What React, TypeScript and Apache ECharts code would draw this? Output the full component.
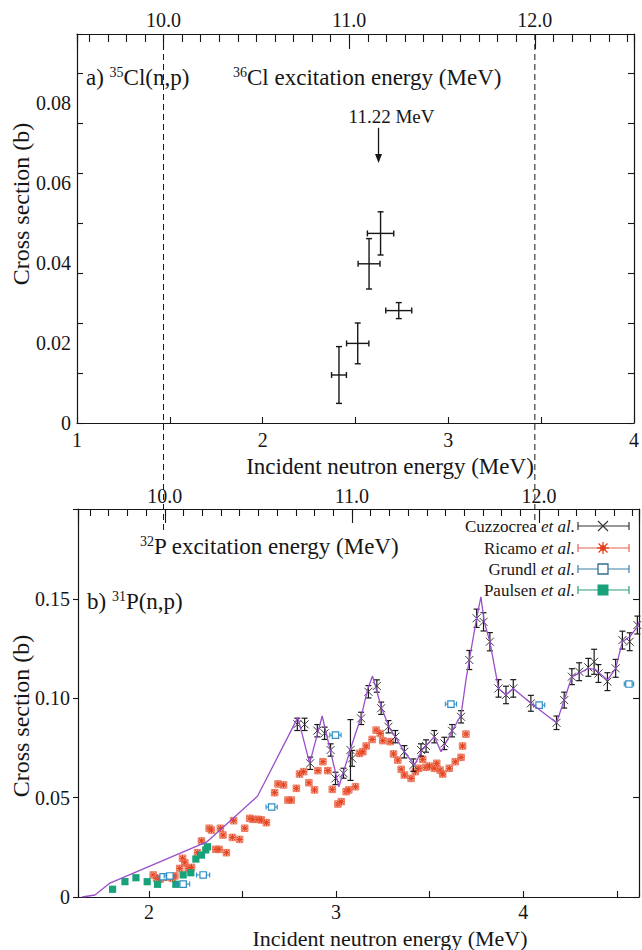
import React, { useEffect, useRef } from 'react';
import * as echarts from 'echarts';

// ---------------- Panel a) 35Cl(n,p) ----------------
const clEnergy = [2.411, 2.512, 2.573, 2.635, 2.733];
const clEnergyErr = [0.040, 0.060, 0.059, 0.071, 0.070];
const clCross = [0.0120, 0.0199, 0.0398, 0.0474, 0.0281];
const clCrossErr = [0.0071, 0.0051, 0.0063, 0.0054, 0.0020];
const clArrow = [2.624, 0.0738, 0.0650]; // energy, arrow start, arrow tip
const clArrowLabel = '11.22 MeV';
const clExOffset = 8.534; // 36Cl excitation energy = En + offset (axis alignment)

// ---------------- Panel b) 31P(n,p) ----------------
const pExOffset = 7.915; // 32P excitation energy = En + offset
const dashedEx = [10.0, 12.0];

const cuzEnergy = [2.793, 2.832, 2.862, 2.900, 2.939, 2.971, 2.997, 3.040, 3.077, 3.086,
  3.134, 3.173, 3.218, 3.241, 3.280, 3.317, 3.365, 3.413, 3.454, 3.481,
  3.525, 3.579, 3.620, 3.668, 3.712, 3.751, 3.788, 3.822, 3.868, 3.908,
  3.947, 4.041, 4.178, 4.219, 4.260, 4.299, 4.348, 4.379, 4.402, 4.450,
  4.494, 4.530, 4.569, 4.610];
const cuzCross = [0.0869, 0.0869, 0.0673, 0.0837, 0.0824, 0.0740, 0.0597, 0.0623, 0.0740, 0.0698,
  0.0899, 0.1033, 0.1062, 0.0950, 0.0857, 0.0807, 0.0731, 0.0664, 0.0740, 0.0760,
  0.0807, 0.0773, 0.0837, 0.0907, 0.1193, 0.1403, 0.1385, 0.1285, 0.1050, 0.1017,
  0.1050, 0.0975, 0.0877, 0.0991, 0.1109, 0.1134, 0.1156, 0.1184, 0.1125, 0.1084,
  0.1151, 0.1293, 0.1285, 0.1369];
const cuzErr = [0.0031, 0.0031, 0.0031, 0.0031, 0.0031, 0.0031, 0.0031, 0.0025, 0.0153, 0.0040,
  0.0031, 0.0031, 0.0031, 0.0031, 0.0031, 0.0031, 0.0031, 0.0031, 0.0031, 0.0031,
  0.0031, 0.0031, 0.0031, 0.0031, 0.0048, 0.0046, 0.0046, 0.0046, 0.0044, 0.0044,
  0.0044, 0.0040, 0.0034, 0.0040, 0.0040, 0.0045, 0.0045, 0.0063, 0.0045, 0.0045,
  0.0045, 0.0045, 0.0045, 0.0045];

const ricEnergy = [2.023, 2.041, 2.059, 2.091, 2.126, 2.139, 2.165, 2.180, 2.192, 2.210,
  2.228, 2.260, 2.281, 2.322, 2.334, 2.357, 2.375, 2.382, 2.396, 2.414,
  2.446, 2.453, 2.485, 2.512, 2.539, 2.556, 2.583, 2.601, 2.628, 2.672,
  2.690, 2.720, 2.743, 2.761, 2.788, 2.805, 2.827, 2.855, 2.885, 2.903,
  2.930, 2.956, 2.980, 3.010, 3.028, 3.054, 3.068, 3.104, 3.125, 3.143,
  3.161, 3.193, 3.214, 3.236, 3.250, 3.289, 3.307, 3.330, 3.348, 3.365,
  3.401, 3.424, 3.442, 3.463, 3.481, 3.499, 3.525, 3.538, 3.556, 3.570,
  3.605, 3.637, 3.668, 3.676, 3.694];
const ricCross = [0.0111, 0.0094, 0.0089, 0.0099, 0.0094, 0.0106, 0.0144, 0.0195, 0.0172, 0.0144,
  0.0149, 0.0223, 0.0282, 0.0346, 0.0337, 0.0240, 0.0240, 0.0346, 0.0312, 0.0223,
  0.0300, 0.0384, 0.0290, 0.0346, 0.0396, 0.0391, 0.0391, 0.0388, 0.0374, 0.0525,
  0.0569, 0.0564, 0.0488, 0.0488, 0.0547, 0.0619, 0.0631, 0.0575, 0.0539, 0.0636,
  0.0681, 0.0636, 0.0542, 0.0468, 0.0480, 0.0530, 0.0539, 0.0555, 0.0723, 0.0731,
  0.0760, 0.0793, 0.0840, 0.0823, 0.0787, 0.0782, 0.0720, 0.0689, 0.0643, 0.0614,
  0.0597, 0.0631, 0.0648, 0.0693, 0.0653, 0.0659, 0.0648, 0.0673, 0.0639, 0.0619,
  0.0648, 0.0681, 0.0703, 0.0760, 0.0820];

const grEnergy = [2.076, 2.112, 2.183, 2.290, 2.656, 2.997, 3.614, 4.085, 4.565];
const grCross = [0.0102, 0.0106, 0.0065, 0.0111, 0.0453, 0.0815, 0.0971, 0.0966, 0.1072];
const grErr = [0.030, 0.030, 0.035, 0.035, 0.030, 0.030, 0.030, 0.030, 0.025];

const paEnergy = [1.806, 1.872, 1.931, 1.991, 2.046, 2.144, 2.183, 2.224, 2.251, 2.281, 2.304, 2.313];
const paCross = [0.0039, 0.0077, 0.0097, 0.0077, 0.0064, 0.0064, 0.0111, 0.0122, 0.0191, 0.0211, 0.0237, 0.0253];

const lineEnergy = [1.643, 1.712, 1.792, 2.309, 2.581, 2.796, 2.859, 2.926, 3.015, 3.081,
  3.134, 3.170, 3.195, 3.241, 3.285, 3.321, 3.365, 3.419, 3.460, 3.525,
  3.561, 3.623, 3.668, 3.694, 3.712, 3.751, 3.774, 3.792, 3.822, 3.868,
  3.908, 3.947, 4.041, 4.178, 4.219, 4.260, 4.299, 4.348, 4.384, 4.450,
  4.494, 4.530, 4.569, 4.610, 4.619];
const lineCross = [0, 0.0010, 0.0070, 0.0277, 0.0508, 0.0904, 0.0673, 0.0911, 0.0555, 0.0756,
  0.0907, 0.1050, 0.1112, 0.0958, 0.0851, 0.0800, 0.0731, 0.0664, 0.0740, 0.0807,
  0.0731, 0.0840, 0.0916, 0.1092, 0.1193, 0.1403, 0.1511, 0.1385, 0.1285, 0.1050,
  0.1017, 0.1050, 0.0975, 0.0877, 0.0991, 0.1109, 0.1126, 0.1151, 0.1146, 0.1092,
  0.1151, 0.1285, 0.1310, 0.1360, 0.1384];

const legendNames = ['Cuzzocrea', 'Ricamo', 'Grundl', 'Paulsen'];

// axis ranges
const aXMin = 1, aXMax = 4, aYMax = 0.09725;
const bXMin = 1.6213, bXMax = 4.6187, bYMax = 0.1953;

// ---------------- styling ----------------
const SERIF = '"Liberation Serif", "DejaVu Serif", serif';
const INK = '#161616';
const C_CUZ = '#1a1a1a';
const C_RIC = '#e4421f';
const C_GR = '#2e8fc4';
const C_PA = '#17a279';
const C_LINE = '#9a4fca';

function seg(x1: number, y1: number, x2: number, y2: number, stroke: string, lw = 1) {
  return { type: 'line', shape: { x1, y1, x2, y2 }, style: { stroke, lineWidth: lw } };
}

function txt(text: string, x: number, y: number, size: number, align = 'left', extra: any = {}) {
  return {
    type: 'text',
    x, y,
    rotation: extra.rotation || 0,
    style: {
      text, x: 0, y: 0,
      fontSize: size, fontFamily: SERIF, fill: INK,
      align, textAlign: align,
      verticalAlign: 'middle', textVerticalAlign: 'middle',
      rich: extra.rich,
    },
  };
}

const supRich = (size: number) => ({
  sup: { fontSize: size, fontFamily: SERIF, fill: INK, verticalAlign: 'top', textVerticalAlign: 'top' },
});
const italRich = {
  i: { fontSize: 17, fontFamily: SERIF, fontStyle: 'italic', fill: INK },
};

const isMult = (v: number, step: number) => Math.abs(v / step - Math.round(v / step)) < 1e-6;
const intLabel = (v: number) => (isMult(v, 1) ? String(Math.round(v)) : '');
const exLabel = (v: number) => (isMult(v, 1) ? Math.round(v).toFixed(1) : '');
const yLabel = (step: number) => (v: number) => (isMult(v, step) ? (Math.abs(v) < 1e-9 ? '0' : v.toFixed(2)) : '');

const axisFont = { fontFamily: SERIF, fontSize: 20, color: INK };
const line = (show = true) => ({ show, onZero: false, lineStyle: { color: INK, width: 1.2 } });
const tick = (show: boolean, inside: boolean, length: number) => ({
  show, inside, length, lineStyle: { color: INK, width: 1.1 },
});

function buildOption(): any {
  const xAxis = [
    // grid 0 bottom: incident energy
    { gridIndex: 0, type: 'value', position: 'bottom', min: aXMin, max: aXMax, interval: 0.5,
      axisLine: line(), axisTick: tick(true, true, 6), splitLine: { show: false },
      axisLabel: { ...axisFont, margin: 7, formatter: intLabel } },
    // grid 0 top: excitation minor
    { gridIndex: 0, type: 'value', position: 'top', min: aXMin + clExOffset, max: aXMax + clExOffset, splitNumber: 30,
      axisLine: line(), axisTick: tick(true, true, 8), splitLine: { show: false }, axisLabel: { show: false } },
    // grid 0 top: excitation major
    { gridIndex: 0, type: 'value', position: 'top', min: aXMin + clExOffset, max: aXMax + clExOffset, splitNumber: 3,
      axisLine: line(false), axisTick: tick(true, true, 15), splitLine: { show: false },
      axisLabel: { ...axisFont, margin: 4, formatter: exLabel } },
    // grid 1 bottom
    { gridIndex: 1, type: 'value', position: 'bottom', min: bXMin, max: bXMax, splitNumber: 6,
      axisLine: line(), axisTick: tick(true, true, 6), splitLine: { show: false },
      axisLabel: { ...axisFont, margin: 5, formatter: intLabel } },
    // grid 1 top minor
    { gridIndex: 1, type: 'value', position: 'top', min: bXMin + pExOffset, max: bXMax + pExOffset, splitNumber: 30,
      axisLine: line(), axisTick: tick(true, true, 7), splitLine: { show: false }, axisLabel: { show: false } },
    // grid 1 top major
    { gridIndex: 1, type: 'value', position: 'top', min: bXMin + pExOffset, max: bXMax + pExOffset, splitNumber: 3,
      axisLine: line(false), axisTick: tick(true, true, 14), splitLine: { show: false },
      axisLabel: { ...axisFont, margin: 3, formatter: exLabel } },
  ];
  const yAxis = [
    { gridIndex: 0, type: 'value', position: 'left', min: 0, max: aYMax, interval: 0.02,
      axisLine: line(), axisTick: { show: false }, splitLine: { show: false },
      axisLabel: { ...axisFont, margin: 6, formatter: yLabel(0.02) } },
    { gridIndex: 0, type: 'value', position: 'left', min: 0, max: aYMax, interval: 0.0125,
      axisLine: line(false), axisTick: tick(true, true, 6), splitLine: { show: false }, axisLabel: { show: false } },
    { gridIndex: 0, type: 'value', position: 'right', min: 0, max: aYMax, interval: 0.0125,
      axisLine: line(), axisTick: tick(true, true, 6), splitLine: { show: false }, axisLabel: { show: false } },
    { gridIndex: 1, type: 'value', position: 'left', min: 0, max: bYMax, interval: 0.05,
      axisLine: line(), axisTick: tick(true, false, 5), splitLine: { show: false },
      axisLabel: { ...axisFont, margin: 8, formatter: yLabel(0.05) } },
    { gridIndex: 1, type: 'value', position: 'right', min: 0, max: bYMax, interval: 0.05,
      axisLine: line(), axisTick: tick(true, true, 6), splitLine: { show: false }, axisLabel: { show: false } },
  ];

  const crossData = clEnergy.map((e, i) => [e, clCross[i], clEnergyErr[i], clCrossErr[i]]);

  const series: any[] = [
    {
      type: 'custom', name: '35Cl(n,p)', xAxisIndex: 0, yAxisIndex: 0, encode: { x: 0, y: 1 },
      data: crossData,
      renderItem: (_p: any, api: any) => {
        const x = api.value(0), y = api.value(1), xe = api.value(2), ye = api.value(3);
        const c = api.coord([x, y]);
        const l = api.coord([x - xe, y]);
        const r = api.coord([x + xe, y]);
        const t = api.coord([x, y + ye]);
        const b = api.coord([x, y - ye]);
        const cap = 3;
        return {
          type: 'group', children: [
            seg(l[0], c[1], r[0], c[1], INK, 1.4),
            seg(l[0], c[1] - cap, l[0], c[1] + cap, INK, 1.4),
            seg(r[0], c[1] - cap, r[0], c[1] + cap, INK, 1.4),
            seg(c[0], t[1], c[0], b[1], INK, 1.4),
            seg(c[0] - cap, t[1], c[0] + cap, t[1], INK, 1.4),
            seg(c[0] - cap, b[1], c[0] + cap, b[1], INK, 1.4),
          ],
        };
      },
    },
    {
      type: 'custom', name: 'arrow', xAxisIndex: 0, yAxisIndex: 0, encode: { x: 0, y: 1 },
      data: [clArrow],
      renderItem: (_p: any, api: any) => {
        const x = api.value(0);
        const p0 = api.coord([x, api.value(1)]);
        const p1 = api.coord([x, api.value(2)]);
        return {
          type: 'group', children: [
            seg(p0[0], p0[1], p0[0], p1[1] - 6, INK, 1.3),
            { type: 'polygon', shape: { points: [[p1[0] - 3.5, p1[1] - 9], [p1[0] + 3.5, p1[1] - 9], [p1[0], p1[1]]] },
              style: { fill: INK } },
            { type: 'text', style: { text: clArrowLabel, x: p0[0] + 13, y: p0[1] - 11, fontSize: 19, fontFamily: SERIF,
              fill: INK, align: 'center', textAlign: 'center', verticalAlign: 'middle', textVerticalAlign: 'middle' } },
          ],
        };
      },
    },
    {
      type: 'custom', name: 'Ricamo et al.', xAxisIndex: 3, yAxisIndex: 3, encode: { x: 0, y: 1 },
      data: ricEnergy.map((e, i) => [e, ricCross[i]]),
      renderItem: (_p: any, api: any) => {
        const c = api.coord([api.value(0), api.value(1)]);
        const h = 3.3, d = h * 0.75;
        return {
          type: 'group', children: [
            { type: 'rect', shape: { x: c[0] - h, y: c[1] - h, width: 2 * h, height: 2 * h },
              style: { fill: 'rgba(242,140,110,0.45)', stroke: '#ea6a4d', lineWidth: 0.8 } },
            seg(c[0] - h, c[1], c[0] + h, c[1], C_RIC, 1.1),
            seg(c[0], c[1] - h, c[0], c[1] + h, C_RIC, 1.1),
            seg(c[0] - d, c[1] - d, c[0] + d, c[1] + d, C_RIC, 1.1),
            seg(c[0] - d, c[1] + d, c[0] + d, c[1] - d, C_RIC, 1.1),
          ],
        };
      },
    },
    {
      type: 'custom', name: 'Paulsen et al.', xAxisIndex: 3, yAxisIndex: 3, encode: { x: 0, y: 1 },
      data: paEnergy.map((e, i) => [e, paCross[i]]),
      renderItem: (_p: any, api: any) => {
        const c = api.coord([api.value(0), api.value(1)]);
        const h = 3.6;
        return { type: 'rect', shape: { x: c[0] - h, y: c[1] - h, width: 2 * h, height: 2 * h }, style: { fill: C_PA } };
      },
    },
    {
      type: 'custom', name: 'Grundl et al.', xAxisIndex: 3, yAxisIndex: 3, encode: { x: 0, y: 1 },
      data: grEnergy.map((e, i) => [e, grCross[i], grErr[i]]),
      renderItem: (_p: any, api: any) => {
        const x = api.value(0), y = api.value(1), xe = api.value(2);
        const c = api.coord([x, y]);
        const l = api.coord([x - xe, y]);
        const r = api.coord([x + xe, y]);
        const h = 3.2;
        return {
          type: 'group', children: [
            seg(l[0], c[1], r[0], c[1], C_GR, 1.1),
            seg(l[0], c[1] - 2.5, l[0], c[1] + 2.5, C_GR, 1.1),
            seg(r[0], c[1] - 2.5, r[0], c[1] + 2.5, C_GR, 1.1),
            { type: 'rect', shape: { x: c[0] - h, y: c[1] - h, width: 2 * h, height: 2 * h },
              style: { fill: '#ffffff', stroke: C_GR, lineWidth: 1.2 } },
          ],
        };
      },
    },
    {
      type: 'line', name: 'calc', xAxisIndex: 3, yAxisIndex: 3, showSymbol: false, symbol: 'none',
      data: lineEnergy.map((e, i) => [e, lineCross[i]]),
      lineStyle: { color: C_LINE, width: 1.3 },
    },
    {
      type: 'custom', name: 'Cuzzocrea et al.', xAxisIndex: 3, yAxisIndex: 3, encode: { x: 0, y: 1 },
      data: cuzEnergy.map((e, i) => [e, cuzCross[i], cuzErr[i]]),
      renderItem: (_p: any, api: any) => {
        const x = api.value(0), y = api.value(1), ye = api.value(2);
        const c = api.coord([x, y]);
        const t = api.coord([x, y + ye]);
        const b = api.coord([x, y - ye]);
        const cap = 3, s = 4;
        return {
          type: 'group', children: [
            seg(c[0], t[1], c[0], b[1], C_CUZ, 1.2),
            seg(c[0] - cap, t[1], c[0] + cap, t[1], C_CUZ, 1.2),
            seg(c[0] - cap, b[1], c[0] + cap, b[1], C_CUZ, 1.2),
            seg(c[0] - s, c[1] - s, c[0] + s, c[1] + s, '#3a3a3a', 1),
            seg(c[0] - s, c[1] + s, c[0] + s, c[1] - s, '#3a3a3a', 1),
          ],
        };
      },
    },
  ];

  return {
    animation: false,
    backgroundColor: '#ffffff',
    grid: [
      { left: 77, top: 34, width: 563, height: 389, show: false },
      { left: 78, top: 509, width: 562, height: 388, show: false },
    ],
    xAxis, yAxis, series,
  };
}

function legendGraphics(): any[] {
  const rows = [526, 548, 569, 590];
  const colors = ['#333333', '#e0664e', '#3b7fa3', '#2a9d7e'];
  const out: any[] = [];
  const x0 = 578, x1 = 629, xm = 603;
  rows.forEach((y, i) => {
    out.push(txt(`${legendNames[i]} {i|et al.}`, 575, y, 17, 'right', { rich: italRich }));
    const col = colors[i];
    out.push(seg(x0, y, x1, y, col, 1.2));
    out.push(seg(x0, y - 4, x0, y + 4, col, 1.2));
    out.push(seg(x1, y - 4, x1, y + 4, col, 1.2));
    if (i === 0) {
      out.push(seg(xm - 5, y - 5, xm + 5, y + 5, '#333', 1.1));
      out.push(seg(xm - 5, y + 5, xm + 5, y - 5, '#333', 1.1));
    } else if (i === 1) {
      out.push({ type: 'circle', shape: { cx: xm, cy: y, r: 3 }, style: { fill: C_RIC } });
      out.push(seg(xm - 6, y, xm + 6, y, C_RIC, 1.3));
      out.push(seg(xm, y - 6, xm, y + 6, C_RIC, 1.3));
      out.push(seg(xm - 4.5, y - 4.5, xm + 4.5, y + 4.5, C_RIC, 1.3));
      out.push(seg(xm - 4.5, y + 4.5, xm + 4.5, y - 4.5, C_RIC, 1.3));
    } else if (i === 2) {
      out.push({ type: 'rect', shape: { x: xm - 5, y: y - 5, width: 10, height: 10 },
        style: { fill: '#ffffff', stroke: '#2f6f92', lineWidth: 1.3 } });
    } else {
      out.push({ type: 'rect', shape: { x: xm - 5.5, y: y - 5.5, width: 11, height: 11 }, style: { fill: C_PA } });
    }
  });
  return out;
}

export default function App() {
  const ref = useRef<HTMLDivElement>(null);
  useEffect(() => {
    const el = ref.current as HTMLDivElement;
    const chart = echarts.init(el, null, { renderer: 'svg' });
    chart.setOption(buildOption());

    const graphics: any[] = [];
    // dashed excitation-energy markers (converted through the axes)
    const yTop = chart.convertToPixel({ yAxisIndex: 0 } as any, aYMax) as unknown as number;
    const yBottom = (chart.convertToPixel({ yAxisIndex: 3 } as any, bYMax) as unknown as number) + 21;
    dashedEx.forEach((ex) => {
      const px = chart.convertToPixel({ xAxisIndex: 0 } as any, ex - clExOffset) as unknown as number;
      graphics.push({ type: 'line', shape: { x1: px, y1: yTop, x2: px, y2: yBottom },
        style: { stroke: INK, lineWidth: 1, lineDash: [6, 4] }, z: 1 });
    });

    // texts
    graphics.push(txt('a) {sup|35}Cl(n,p)', 86, 77, 23, 'left', { rich: supRich(14) }));
    graphics.push(txt('{sup|36}Cl excitation energy (MeV)', 233, 77, 23, 'left', { rich: supRich(14) }));
    graphics.push(txt('Incident neutron energy (MeV)', 390, 466, 23, 'center'));
    graphics.push(txt('Cross section (b)', 21, 204, 24, 'center', { rotation: Math.PI / 2 }));

    graphics.push(txt('{sup|32}P excitation energy (MeV)', 140, 546, 23, 'left', { rich: supRich(14) }));
    graphics.push(txt('b) {sup|31}P(n,p)', 87, 601, 23, 'left', { rich: supRich(14) }));
    graphics.push(txt('Incident neutron energy (MeV)', 390, 938, 22, 'center'));
    graphics.push(txt('Cross section (b)', 21, 716, 24, 'center', { rotation: Math.PI / 2 }));

    graphics.push(...legendGraphics());

    chart.setOption({ graphic: graphics });
    return () => chart.dispose();
  }, []);
  return (
    <div
      ref={ref}
      style={{ position: 'absolute', left: 0, top: 0, width: 642, height: 950, background: '#ffffff' }}
    />
  );
}
